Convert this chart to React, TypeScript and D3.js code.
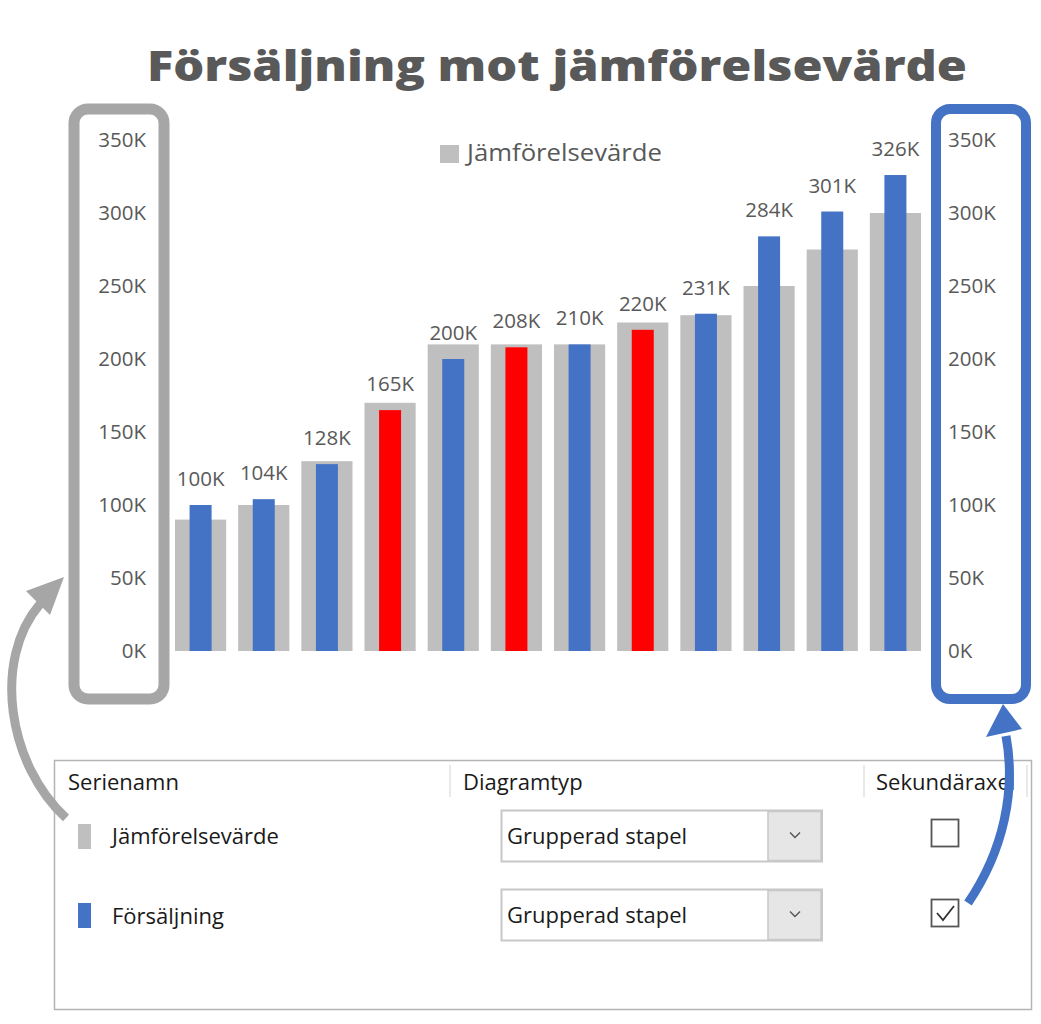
import React from "react";
import * as d3 from "d3";

// Perioder (visas inte som etiketter i diagrammet)
const perioder = ["P1", "P2", "P3", "P4", "P5", "P6", "P7", "P8", "P9", "P10", "P11", "P12"];
// Jämförelsevärde, i tusental
const jamforelse = [90, 100, 130, 170, 210, 210, 210, 225, 230, 250, 275, 300];
// Försäljning, i tusental
const forsaljning = [100, 104, 128, 165, 200, 208, 210, 220, 231, 284, 301, 326];
// staplar som är markerade i rött
const markerad = [false, false, false, true, false, true, false, true, false, false, false, false];
const yTicks = [0, 50, 100, 150, 200, 250, 300, 350];

const GRAY = "#bfbfbf";
const BLUE = "#4472c4";
const RED = "#ff0000";
const TEXT = "#595959";
const FONT = "'Open Sans', 'Noto Sans', sans-serif";

const W = 1041;
const H = 1024;

const App: React.FC = () => {
  const x = d3.scaleBand<string>().domain(perioder).range([169, 927]).paddingInner(0.19).paddingOuter(0.095);
  const y = d3.scaleLinear().domain([0, 350]).range([651, 140]);
  const innerW = 22;
  const fmt = (v: number) => `${v}K`;

  return (
    <svg width={W} height={H} style={{ position: "absolute", left: 0, top: 0, background: "#fff" }}>
      {/* titel */}
      <text x={557} y={81} textAnchor="middle" fontFamily={FONT} fontWeight={800} fontSize={42} fill={TEXT}
        textLength={820} lengthAdjust="spacingAndGlyphs">
        Försäljning mot jämförelsevärde
      </text>

      {/* legend */}
      <rect x={440} y={145} width={19} height={18} fill={GRAY} />
      <text x={467} y={161} fontFamily={FONT} fontSize={23} fill={TEXT} textLength={195} lengthAdjust="spacingAndGlyphs">
        Jämförelsevärde
      </text>

      {/* axelramar */}
      <rect x={74} y={109} width={90} height={590} rx={14} fill="none" stroke="#a6a6a6" strokeWidth={11} />
      <rect x={936} y={109} width={90} height={590} rx={14} fill="none" stroke={BLUE} strokeWidth={10} />

      {/* axlar */}
      {yTicks.map((t) => (
        <g key={t}>
          <text x={146} y={y(t)} dy="0.35em" textAnchor="end" fontFamily={FONT} fontSize={20.5} fill={TEXT}>{fmt(t)}</text>
          <text x={948} y={y(t)} dy="0.35em" textAnchor="start" fontFamily={FONT} fontSize={20.5} fill={TEXT}>{fmt(t)}</text>
        </g>
      ))}

      {/* staplar */}
      {perioder.map((p, i) => (
        <rect key={"g" + p} x={x(p)} y={y(jamforelse[i])} width={x.bandwidth()} height={y(0) - y(jamforelse[i])} fill={GRAY} />
      ))}
      {perioder.map((p, i) => {
        const cx = (x(p) ?? 0) + x.bandwidth() / 2;
        return (
          <g key={"s" + p}>
            <rect x={cx - innerW / 2} y={y(forsaljning[i])} width={innerW} height={y(0) - y(forsaljning[i])}
              fill={markerad[i] ? RED : BLUE} />
            <text x={cx} y={y(forsaljning[i]) - 19} textAnchor="middle" fontFamily={FONT} fontSize={20.5} fill={TEXT}>
              {fmt(forsaljning[i])}
            </text>
          </g>
        );
      })}

      {/* dialogpanel */}
      <rect x={54.5} y={760.5} width={977} height={249} fill="#fff" stroke="#b4b4b4" strokeWidth={1.5} />
      {[450, 864, 1027].map((lx) => (
        <line key={lx} x1={lx} x2={lx} y1={765} y2={797} stroke="#e2e2e2" strokeWidth={1.5} />
      ))}
      <g fontFamily={FONT} fontSize={22} fill="#1a1a1a">
        <text x={68} y={790}>Serienamn</text>
        <text x={463} y={790}>Diagramtyp</text>
        <text x={876} y={790}>Sekundäraxel</text>
        <text x={112} y={844}>Jämförelsevärde</text>
        <text x={112} y={924}>Försäljning</text>
      </g>
      <rect x={78} y={824} width={13} height={25} fill={GRAY} />
      <rect x={78} y={903} width={13} height={25} fill={BLUE} />

      {[810.5, 889.5].map((by) => (
        <g key={by}>
          <rect x={501.5} y={by} width={320.5} height={51} fill="#fff" stroke="#c8c8c8" strokeWidth={2} />
          <rect x={768} y={by + 1} width={53} height={49} fill="#e6e6e6" stroke="#c8c8c8" strokeWidth={1.5} />
          <polyline points={`${790},${by + 22} ${795},${by + 27} ${800},${by + 22}`} fill="none" stroke="#555" strokeWidth={1.4} />
          <text x={507} y={by + 33} fontFamily={FONT} fontSize={22} fill="#1a1a1a">Grupperad stapel</text>
        </g>
      ))}

      <rect x={931.5} y={819.5} width={27} height={27} fill="#fff" stroke="#555" strokeWidth={1.8} />
      <rect x={931.5} y={899.5} width={27} height={27} fill="#fff" stroke="#555" strokeWidth={1.8} />
      <polyline points="937,913 943,920 954,906" fill="none" stroke="#333" strokeWidth={1.8} />

      {/* pilar */}
      <path d="M66,818 C 8,765 -8,660 40,604" fill="none" stroke="#a6a6a6" strokeWidth={9} />
      <polygon points="64,577 26,591 50,615" fill="#a6a6a6" />
      <path d="M968,903 C 1004,850 1016,790 1006,736" fill="none" stroke={BLUE} strokeWidth={9} />
      <polygon points="1003,704 986,737 1022,729" fill={BLUE} />
    </svg>
  );
};

export default App;
